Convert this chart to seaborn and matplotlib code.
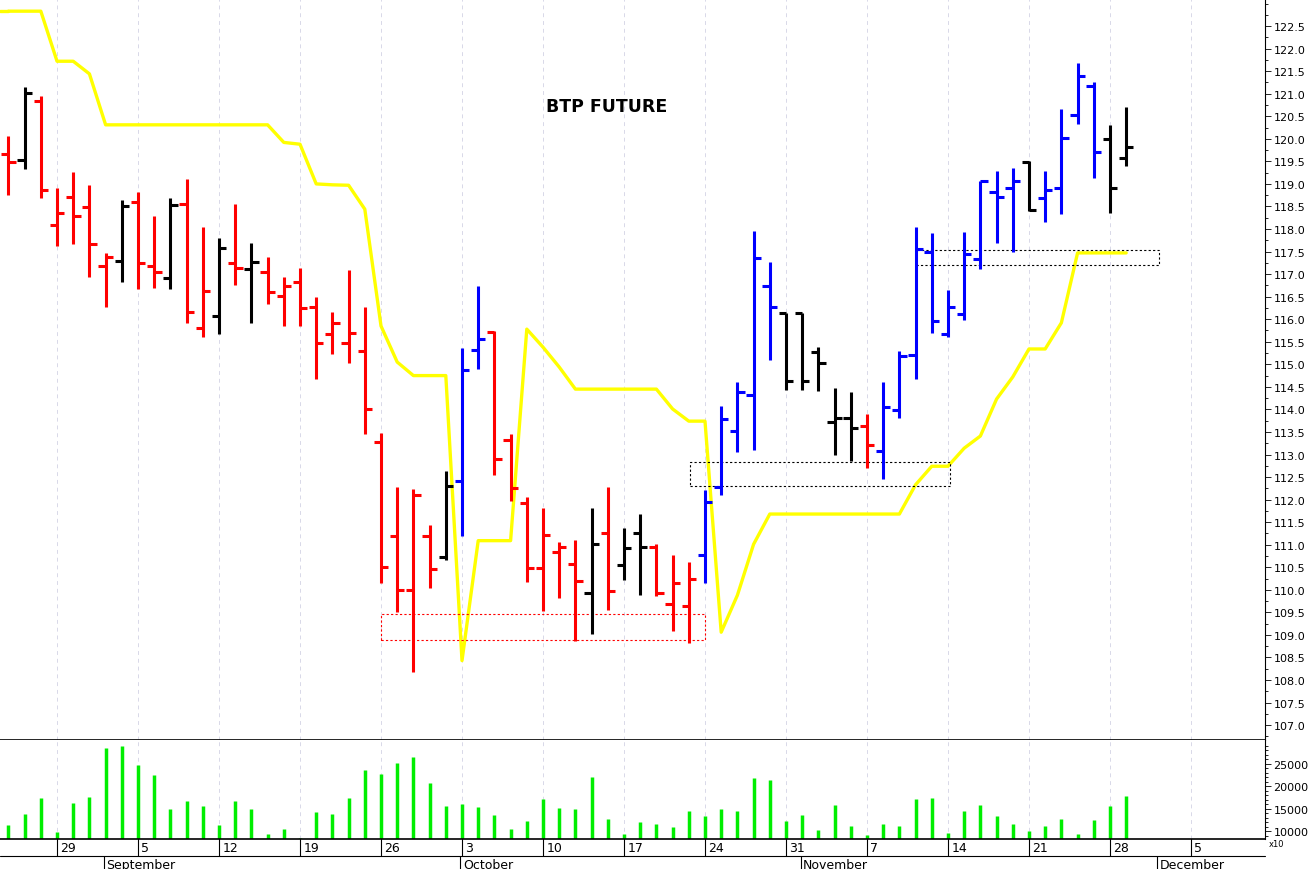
import numpy as np
import pandas as pd
import matplotlib
matplotlib.use("Agg")
import matplotlib.pyplot as plt
import seaborn as sns

# ---- data ----
opens = [119.66,119.53,120.83,118.09,118.71,118.49,117.17,117.28,118.61,117.17,
         116.91,118.55,115.80,116.07,117.24,117.11,117.05,116.51,116.82,116.27,
         115.67,115.47,115.30,113.27,111.20,109.99,111.20,110.73,112.42,115.32,
         115.71,113.33,111.92,110.48,110.83,110.57,109.93,111.27,110.55,111.27,
         110.96,109.69,109.65,110.77,112.27,113.53,114.31,116.73,116.13,116.13,
         115.28,113.73,113.82,113.64,113.07,113.99,115.20,117.50,115.68,116.12,
         117.34,118.83,118.92,119.48,118.68,118.92,120.53,121.16,120.00,119.57]
highs = [120.07,121.14,120.94,118.91,119.27,118.97,117.47,118.64,118.83,118.29,
         118.68,119.11,118.04,117.80,118.56,117.68,117.39,116.93,117.13,116.50,
         116.17,117.10,116.27,113.48,112.27,112.24,111.44,112.64,115.36,116.74,
         115.73,113.46,112.06,111.81,111.07,111.11,111.81,112.29,111.38,111.68,
         111.02,110.78,110.61,112.22,114.08,114.60,117.96,117.27,116.13,116.13,
         115.39,114.48,114.38,113.90,114.60,115.30,118.04,117.92,116.64,117.93,
         119.07,119.29,119.36,119.51,119.29,120.67,121.69,121.25,120.31,120.71]
lows = [118.75,119.33,118.69,117.62,117.67,116.93,116.28,116.83,116.67,116.69,
        116.67,115.91,115.61,115.67,116.76,115.91,116.33,115.86,115.85,114.67,
        115.22,115.03,113.45,110.16,109.50,108.17,110.04,110.66,111.20,114.89,
        112.54,111.96,110.18,109.54,109.81,108.87,109.02,109.56,110.21,109.89,
        109.87,109.09,108.83,110.15,112.10,113.05,113.11,115.09,114.44,114.44,
        114.40,113.00,112.85,112.71,112.46,113.81,114.67,115.69,115.60,115.98,
        117.11,117.68,117.48,118.40,118.16,118.33,120.33,119.14,118.35,119.39]
closes = [119.48,121.01,118.86,118.35,118.29,117.67,117.37,118.52,117.25,117.05,
          118.53,116.15,116.63,117.59,117.14,117.27,116.61,116.74,116.25,115.47,
          115.91,115.69,114.01,110.50,109.99,112.11,110.46,112.31,114.87,115.56,
          112.91,112.25,110.48,111.22,110.96,110.20,111.02,109.97,110.92,110.94,
          109.93,110.16,110.24,111.94,113.78,114.38,117.35,116.28,114.62,114.62,
          115.02,113.80,113.58,113.20,114.05,115.19,117.56,115.95,116.28,117.45,
          119.07,118.70,119.06,118.42,118.87,120.01,121.40,119.70,118.91,119.81]
bar_colors = (["red","black"] + ["red"]*5 + ["black"] + ["red"]*2 + ["black"] + ["red"]*2 +
              ["black","red","black"] + ["red"]*11 + ["black"] + ["blue"]*2 + ["red"]*6 +
              ["black","red","black","black"] + ["red"]*3 + ["blue"]*5 + ["black"]*5 +
              ["red"] + ["blue"]*9 + ["black"] + ["blue"]*4 + ["black"]*2)
stop_line = [122.83,122.83,122.83,121.72,121.72,121.44] + [120.31]*11 + \
            [119.92,119.88,119.00,118.98,118.97,118.44,115.85,115.05,114.75,114.75,114.75,
             108.43,111.09,111.09,111.09,115.78,115.38,114.94] + [114.45]*6 + \
            [114.01,113.74,113.74,109.06,109.88,111.01] + [111.68]*9 + \
            [112.33,112.74,112.74,113.14,113.41,114.23,114.72,115.34,115.34,115.92] + [117.47]*4
volume = [11440,13800,17370,9960,16260,17660,28480,28930,24780,22480,
          15000,16700,15590,11440,16700,15000,9520,10480,8500,14260,
          13800,17440,23590,22780,25290,26560,20770,15740,16040,15370,
          13600,10550,12400,17150,15220,14930,22110,12780,9520,12110,
          11670,10930,14550,13370,14930,14550,21820,21370,12330,13600,
          10260,15960,11150,9150,11670,11150,17150,17370,9590,14550,
          15820,13440,11590,10040,11150,12780,9520,12550,15590,17890]
week_pos = [3,8,13,18,23,28,33,38,43,48,53,58,63,68,73]
week_labels = ["29","5","12","19","26","3","10","17","24","31","7","14","21","28","5"]
month_pos = [6,28,49,71]
month_labels = ["September","October","November","December"]
# dotted boxes: (x0, x1, y0, y1, colour)
boxes = [(23,43,108.88,109.46,"red"),(42.1,58.1,112.30,112.83,"black"),(56,71,117.20,117.53,"black")]

n = len(opens)
x = np.arange(n)

sns.set_style("white")
plt.rcParams["font.family"] = ["DejaVu Sans"]
plt.rcParams["text.color"] = "black"
plt.rcParams["ytick.color"] = "black"
plt.rcParams["ytick.labelcolor"] = "black"

W, H = 1316, 870
fig = plt.figure(figsize=(W/100, H/100), dpi=100)
xr = 1265/W
ax = fig.add_axes([0, (H-741)/H, xr, 741/H])
axv = fig.add_axes([0, (H-840)/H, xr, 99/H])
xlim = (-0.52, 77.57)

for a in (ax, axv):
    a.set_xlim(*xlim)
    for s in ("left", "top"):
        a.spines[s].set_visible(False)
    a.spines["right"].set_color("black")
    a.spines["bottom"].set_color("black")
    a.spines["right"].set_linewidth(0.8)
    a.spines["bottom"].set_linewidth(1.2)
    a.set_xticks([])
    a.yaxis.tick_right()
    for p in week_pos:
        a.axvline(p, color="#d8d8e8", lw=0.7, ls=(0, (4, 4)), zorder=0)

ax.set_ylim(106.67, 123.1)
ax.set_yticks(np.arange(107.0, 122.51, 0.5))
ax.set_yticks(np.arange(106.75, 123.1, 0.25), minor=True)
ax.set_yticklabels([f"{v:.1f}" for v in np.arange(107.0, 122.51, 0.5)])
ax.tick_params(axis="y", which="both", right=True, direction="out", labelsize=8, pad=2,
               length=4, width=0.6, colors="black")
ax.tick_params(axis="y", which="minor", length=2)

lw = 2.2
tk = 0.45
for i in range(n):
    c = bar_colors[i]
    ax.vlines(i, lows[i], highs[i], color=c, lw=lw)
    ax.hlines(opens[i], i - tk, i, color=c, lw=lw)
    ax.hlines(closes[i], i, i + tk, color=c, lw=lw)

df = pd.DataFrame({"x": x, "stop": stop_line})
sns.lineplot(data=df, x="x", y="stop", ax=ax, color="#ffff00", lw=2.4, zorder=1)
ax.plot([xlim[0], 0], [stop_line[0]]*2, color="#ffff00", lw=2.4)
ax.set_xlabel(""); ax.set_ylabel("")

for x0, x1, y0, y1, c in boxes:
    ax.add_patch(plt.Rectangle((x0, y0), x1 - x0, y1 - y0, fill=False,
                               ec=c, ls=(0, (2, 2)), lw=0.8))

ax.text(36.9, 120.72, "BTP FUTURE", ha="center", va="center", fontsize=12.5,
        fontweight="bold", color="black")

axv.vlines(x, 0, volume, color="#00ee00", lw=2.5)
axv.set_ylim(8333, 30300)
axv.set_yticks([10000, 15000, 20000, 25000])
axv.set_yticks(np.arange(9000, 30000, 1000), minor=True)
axv.set_yticklabels(["10000", "15000", "20000", "25000"])
axv.tick_params(axis="y", which="both", right=True, direction="out", labelsize=8, pad=2,
                length=4, width=0.6, colors="black")
axv.tick_params(axis="y", which="minor", length=2)
axv.text(1.003, -0.05, "x10", transform=axv.transAxes, fontsize=6, va="center", color="black")

# date rows below the volume panel
tr = axv.get_xaxis_transform()
row1 = -17/99
row2 = -30/99
axv.plot([xlim[0], xlim[1]], [row1, row1], transform=tr, color="black", lw=0.8, clip_on=False)
for p, lab in zip(week_pos, week_labels):
    axv.plot([p, p], [0, row1], transform=tr, color="black", lw=0.8, clip_on=False)
    axv.text(p + 0.2, row1 / 2, lab, transform=tr, fontsize=9, va="center", ha="left", color="black")
for p, lab in zip(month_pos, month_labels):
    axv.plot([p - 0.1, p - 0.1], [row1, row2], transform=tr, color="black", lw=0.8, clip_on=False)
    axv.text(p + 0.05, (row1 + row2) / 2 - 0.02, lab, transform=tr, fontsize=9, va="center",
             ha="left", color="black")

fig.savefig("out.png", dpi=100, facecolor="white")
